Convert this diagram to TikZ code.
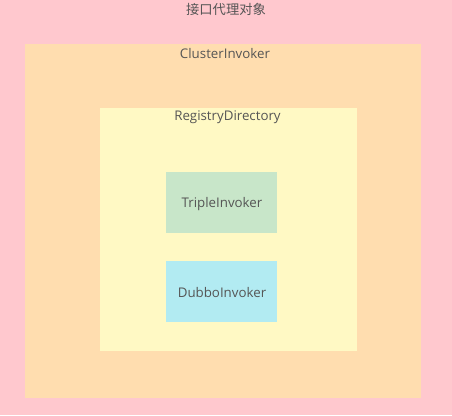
\documentclass[tikz,border=0pt]{standalone}
\usepackage{fontspec}
\setmainfont{Open Sans}
\newfontfamily\cjk{Noto Sans CJK SC}
\definecolor{bgpink}{RGB}{255,200,206}
\definecolor{boxorange}{RGB}{255,221,175}
\definecolor{boxyellow}{RGB}{255,249,196}
\definecolor{boxgreen}{RGB}{200,230,201}
\definecolor{boxcyan}{RGB}{178,235,242}
\definecolor{txtgrey}{RGB}{85,85,85}
\begin{document}
\begin{tikzpicture}[x=1pt,y=-1pt,
  area/.style={draw=none,inner sep=0pt,outer sep=0pt},
  lbl/.style={text=txtgrey,font=\fontsize{13.3}{15}\selectfont,inner sep=0pt},
  inv/.style={area,minimum width=111pt,minimum height=61pt}]
\useasboundingbox (0,0) rectangle (452,415);
\fill[bgpink] (0,0) rectangle (452,415);
\node[area,fill=boxorange,minimum width=396pt,minimum height=354pt] (cluster) at (223,221) {};
\node[area,fill=boxyellow,minimum width=257pt,minimum height=243pt] (registry) at (228.5,229.5) {};
\node[inv,fill=boxgreen] (triple) at (221.5,202.5) {};
\node[inv,fill=boxcyan] (dubbo) at (221.5,291) {};
\node[lbl] (triplelbl) at (222,204) {TripleInvoker};
\node[lbl] (dubbolbl) at (222,292.5) {DubboInvoker};
\node[lbl,font=\cjk\fontsize{13.3}{15}\selectfont] (proxy) at (226,9) {接口代理对象};
\node[lbl] (clusterlbl) at (225,53.5) {ClusterInvoker};
\node[lbl] (registrylbl) at (227.5,117.5) {RegistryDirectory};
\end{tikzpicture}
\end{document}
